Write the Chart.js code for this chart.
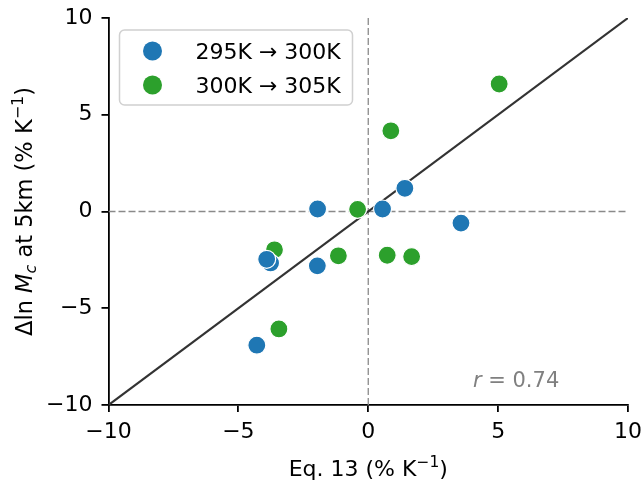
<!DOCTYPE html>
<html>
<head>
<meta charset="utf-8">
<script src="https://cdn.jsdelivr.net/npm/chart.js@4.4.1/dist/chart.umd.min.js"></script>
<style>
  html, body { margin: 0; padding: 0; background: #fff; }
  #wrap { width: 644px; height: 482px; }
</style>
</head>
<body>
<div id="wrap"><canvas id="chart" width="644" height="482"></canvas></div>
<script>
// series (x = Eq. 13, y = dln Mc at 5km), % per K
const seriesLabels = ['295K \u2192 300K', '300K \u2192 305K'];
const seriesColors = ['#1f77b4', '#2ca02c'];
const coolX = [1.41, 0.55, -1.95, 3.57, -1.96, -3.76, -3.91, -4.29];
const coolY = [1.20, 0.13, 0.13, -0.60, -2.81, -2.66, -2.47, -6.91];
const warmX = [5.04, 0.87, -0.41, -1.15, 0.73, 1.67, -3.61, -3.44];
const warmY = [6.59, 4.17, 0.11, -2.29, -2.26, -2.33, -1.98, -6.07];
const axisTicks = [-10, -5, 0, 5, 10];
const corrText = '0.74';

const FONT = 'DejaVu Sans';
const pts = (xs, ys) => xs.map((v, i) => ({x: v, y: ys[i]}));
const lo = axisTicks[0], hi = axisTicks[axisTicks.length - 1];
const minus = v => String(v).replace('-', '\u2212');

// pieces of text drawn side by side: [text, sizePx, italic, dy]
function drawRuns(ctx, runs, x0, y0, align) {
  let total = 0;
  runs.forEach(r => {
    ctx.font = (r[2] ? 'italic ' : '') + r[1] + 'px "' + FONT + '"';
    r.w = ctx.measureText(r[0]).width;
    total += r.w;
  });
  let x = align === 'center' ? x0 - total / 2 : x0;
  runs.forEach(r => {
    ctx.font = (r[2] ? 'italic ' : '') + r[1] + 'px "' + FONT + '"';
    ctx.fillText(r[0], x, y0 + (r[3] || 0));
    x += r.w;
  });
}

const overlay = {
  id: 'overlay',
  afterDraw(chart) {
    const ctx = chart.ctx;
    const area = chart.chartArea;
    const sx = chart.scales.x, sy = chart.scales.y;
    ctx.save();
    ctx.textBaseline = 'alphabetic';
    ctx.textAlign = 'left';
    ctx.fillStyle = '#000';

    // x axis title
    drawRuns(ctx, [
      ['Eq. 13 (% K', 22, false],
      ['\u22121', 15.5, false, -9],
      [')', 22, false]
    ], (area.left + area.right) / 2, 476, 'center');

    // y axis title
    ctx.save();
    ctx.translate(32, (area.top + area.bottom) / 2);
    ctx.rotate(-Math.PI / 2);
    drawRuns(ctx, [
      ['\u0394ln ', 22.5, false],
      ['M', 22.5, true],
      ['c', 16, true, 4],
      [' at 5km (% K', 22.5, false],
      ['\u22121', 16, false, -9],
      [')', 22.5, false]
    ], 0, 0, 'center');
    ctx.restore();

    // correlation note
    ctx.fillStyle = '#808080';
    drawRuns(ctx, [
      ['r', 21, true],
      [' = ' + corrText, 21, false]
    ], sx.getPixelForValue(4.03), sy.getPixelForValue(-9.06), 'left');

    // legend
    const bx = area.left + 11, by = area.top + 12, bw = 233, bh = 75;
    ctx.beginPath();
    ctx.roundRect(bx, by, bw, bh, 5);
    ctx.fillStyle = 'rgba(255,255,255,0.8)';
    ctx.fill();
    ctx.strokeStyle = '#d0d0d0';
    ctx.lineWidth = 1.5;
    ctx.stroke();
    seriesLabels.forEach((lab, i) => {
      const cy = by + 21 + i * 34;
      ctx.beginPath();
      ctx.arc(bx + 33, cy, 9.5, 0, Math.PI * 2);
      ctx.fillStyle = seriesColors[i];
      ctx.fill();
      ctx.fillStyle = '#000';
      ctx.font = '22px "' + FONT + '"';
      ctx.fillText(lab, bx + 76, cy + 8);
    });
    ctx.restore();
  }
};

const refLine = (data, color, width, dash) => ({
  data: data, showLine: true, borderColor: color, borderWidth: width,
  borderDash: dash, pointRadius: 0, order: 5
});

const noPad = s => { s.paddingLeft = s.paddingRight = s.paddingTop = s.paddingBottom = 0; };

new Chart(document.getElementById('chart'), {
  type: 'scatter',
  data: {
    datasets: [
      refLine([{x: lo, y: lo}, {x: hi, y: hi}], '#333333', 2.2, []),
      refLine([{x: lo, y: 0}, {x: hi, y: 0}], '#8a8a8a', 1.3, [7, 3]),
      refLine([{x: 0, y: lo}, {x: 0, y: hi}], '#8a8a8a', 1.3, [7, 3]),
      {
        label: seriesLabels[1], data: pts(warmX, warmY),
        backgroundColor: seriesColors[1], borderColor: '#fff', borderWidth: 1.2,
        pointRadius: 9, order: 2
      },
      {
        label: seriesLabels[0], data: pts(coolX, coolY),
        backgroundColor: seriesColors[0], borderColor: '#fff', borderWidth: 1.2,
        pointRadius: 9, order: 1
      }
    ]
  },
  options: {
    responsive: false,
    animation: false,
    events: [],
    layout: { padding: { left: 0, right: 16, top: 18, bottom: 0 } },
    plugins: { legend: { display: false }, tooltip: { enabled: false } },
    scales: {
      x: {
        type: 'linear', min: lo, max: hi,
        afterBuildTicks: s => { s.ticks = axisTicks.map(v => ({value: v})); },
        afterFit: s => { s.height = 77; noPad(s); },
        ticks: { callback: minus, color: '#000', padding: 7, maxRotation: 0,
                 font: { family: FONT, size: 22 } },
        grid: { drawOnChartArea: false, drawTicks: true, tickLength: 7,
                color: '#000', lineWidth: 1.8 },
        border: { display: true, color: '#000', width: 1.8 }
      },
      y: {
        type: 'linear', min: lo, max: hi,
        afterBuildTicks: s => { s.ticks = axisTicks.map(v => ({value: v})); },
        afterFit: s => { s.width = 108.5; noPad(s); },
        ticks: { callback: minus, color: '#000', padding: 9,
                 font: { family: FONT, size: 22 } },
        grid: { drawOnChartArea: false, drawTicks: true, tickLength: 7,
                color: '#000', lineWidth: 1.8 },
        border: { display: true, color: '#000', width: 1.8 }
      }
    }
  },
  plugins: [overlay]
});
</script>
</body>
</html>
